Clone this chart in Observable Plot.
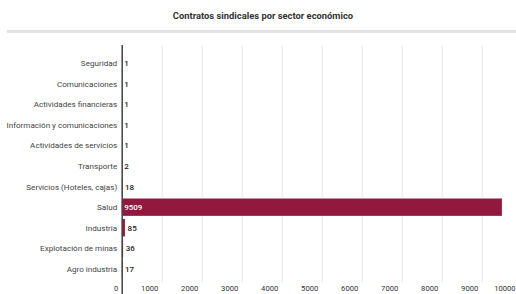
<!DOCTYPE html>
<html><head><meta charset="utf-8">
<script src="https://cdn.jsdelivr.net/npm/d3@7"></script>
<script src="https://cdn.jsdelivr.net/npm/@observablehq/plot@0.6"></script>
<style>
html,body{margin:0;padding:0;background:#fff;width:516px;height:294px;overflow:hidden;font-family:Roboto,sans-serif;}
#title{position:absolute;left:0;top:10px;width:526px;text-align:center;font-size:9.4px;font-weight:700;color:#333;}
#sep{position:absolute;left:7px;top:30px;width:509px;height:3px;background:#e3e3e3;}
#chart{position:absolute;left:0;top:33px;}
</style></head>
<body>
<div id="title">Contratos sindicales por sector económico</div>
<div id="sep"></div>
<div id="chart"></div>
<script>
const sectors = ["Seguridad","Comunicaciones","Actividades financieras","Información y comunicaciones","Actividades de servicios","Transporte","Servicios (Hoteles, cajas)","Salud","Industria","Explotación de minas","Agro industria"];
const counts = [1,1,1,1,1,2,18,9509,85,36,17];
const xTicks = [0,1000,2000,3000,4000,5000,6000,7000,8000,9000,10000];

const data = sectors.map((s,i)=>({sector:s, value:counts[i]}));
const color = "#93183f";

const chart = Plot.plot({
  width: 516,
  height: 261,
  marginTop: 12,
  marginBottom: 11,
  marginLeft: 121.7,
  marginRight: 0,
  style: {fontFamily: "Roboto, sans-serif", fontSize: "8.1px", color: "#333", background: "#fff", overflow: "hidden"},
  x: {domain: [0, 10000], range: [121.7, 521.7]},
  y: {domain: sectors, insetTop: 9.1, insetBottom: 5.2, paddingInner: 0.14, paddingOuter: 0, round: false},
  marks: [
    Plot.ruleX(xTicks.slice(1), {stroke: "#e6e6e6", strokeWidth: 1}),
    Plot.barX(data, {x: "value", y: "sector", fill: color, stroke: "#fff", strokeOpacity: 0.6, strokeWidth: 0.5}),
    Plot.ruleX([0], {stroke: "#444", strokeWidth: 1.5, insetBottom: -11}),
    Plot.axisY({tickSize: 0, tickPadding: 5, fill: "#444", fontSize: 8.1, label: null}),
    Plot.axisX(xTicks.slice(0, -1), {tickSize: 0, textAnchor: "end", dx: -4, tickPadding: 0, dy: 2.5, fill: "#333", fontSize: 7.6, label: null, tickFormat: d => String(d)}),
    Plot.axisX(xTicks.slice(-1), {tickSize: 0, textAnchor: "end", dx: -6.7, tickPadding: 0, dy: 2.5, fill: "#333", fontSize: 7.6, label: null, tickFormat: d => String(d)}),
    Plot.text(data.filter(d => d.value < 1000), {x: "value", y: "sector", text: d => String(d.value), dx: 2, textAnchor: "start", fill: "#222", fontWeight: 500, fontSize: 8}),
    Plot.text(data.filter(d => d.value >= 1000), {x: 0, y: "sector", text: d => String(d.value), dx: 2, textAnchor: "start", fill: "#fff", fontWeight: 500, fontSize: 8})
  ]
});
document.getElementById("chart").appendChild(chart);
</script>
</body></html>
